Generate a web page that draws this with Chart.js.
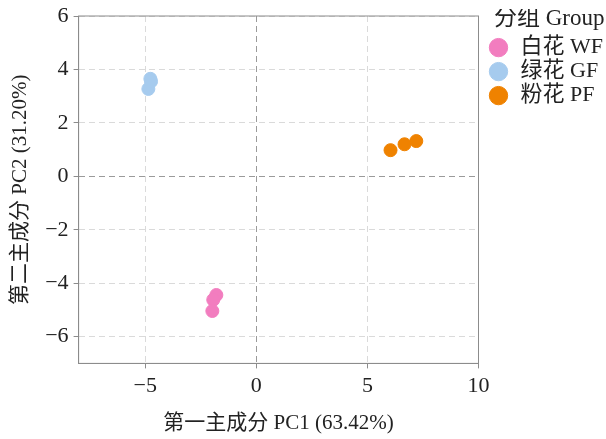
<!DOCTYPE html>
<html>
<head>
<meta charset="utf-8">
<script src="https://cdn.jsdelivr.net/npm/chart.js@4/dist/chart.umd.min.js"></script>
<style>
  html, body { margin: 0; padding: 0; background: #fff; }
  #wrap { width: 606px; height: 439px; }
</style>
</head>
<body>
<div id="wrap"><canvas id="pcaChart"></canvas></div>
<script>
// group names
const groupNames = ['白花 WF', '绿花 GF', '粉花 PF'];
const groupColors = ['#f27dbf', '#a6cbee', '#ef8200'];

// sample scores (PC1, PC2)
const wfPC1 = [-1.80, -1.94, -1.98];
const wfPC2 = [-4.44, -4.62, -5.04];
const gfPC1 = [-4.77, -4.86, -4.74];
const gfPC2 = [3.65, 3.27, 3.55];
const pfPC1 = [6.04, 6.67, 7.20];
const pfPC2 = [0.98, 1.20, 1.32];

const xTicks = [-5, 0, 5, 10];
const yTicks = [-6, -4, -2, 0, 2, 4, 6];

const serif = '"Liberation Serif", "Noto Sans CJK SC", serif';

function toPoints(xs, ys) {
    return xs.map((x, i) => ({ x: x, y: ys[i] }));
}

// box round the plot area, and a little gap before the legend
const frame = {
    id: 'frame',
    afterLayout(chart) {
        if (chart.legend) {
            chart.legend.left += 7;
            chart.legend.right += 7;
        }
    },
    afterDraw(chart) {
        const a = chart.chartArea;
        const ctx = chart.ctx;
        ctx.save();
        ctx.strokeStyle = '#8c8c8c';
        ctx.lineWidth = 1;
        ctx.strokeRect(a.left, a.top, a.right - a.left, a.bottom - a.top);
        ctx.restore();
    }
};

function gridColor(ctx) {
    if (ctx.tick && ctx.tick.value === 0) return '#9a9a9a';
    return '#dadada';
}

const series = [
    toPoints(wfPC1, wfPC2),
    toPoints(gfPC1, gfPC2),
    toPoints(pfPC1, pfPC2)
];

new Chart('pcaChart', {
    type: 'scatter',
    data: {
        datasets: series.map((pts, i) => ({
            label: groupNames[i],
            data: pts,
            backgroundColor: groupColors[i],
            borderColor: groupColors[i],
            pointRadius: 6.5,
            pointHoverRadius: 6.5
        }))
    },
    plugins: [frame],
    options: {
        responsive: true,
        maintainAspectRatio: false,
        animation: false,
        layout: { padding: { top: 9, right: 0, left: 4, bottom: 3 } },
        plugins: {
            legend: {
                position: 'right',
                align: 'start',
                title: {
                    display: true,
                    text: '分组 Group',
                    color: '#222',
                    font: { family: serif, size: 23 },
                    padding: { top: -2, bottom: 0 }
                },
                labels: {
                    usePointStyle: true,
                    pointStyle: 'circle',
                    boxWidth: 22,
                    boxHeight: 13,
                    padding: 2,
                    color: '#222',
                    font: { family: serif, size: 22 }
                }
            },
            tooltip: { enabled: false }
        },
        scales: {
            x: {
                type: 'linear',
                min: -8,
                max: 10,
                afterBuildTicks: (axis) => { axis.ticks = xTicks.map(v => ({ value: v })); },
                ticks: {
                    color: '#222',
                    font: { family: serif, size: 22 },
                    padding: 5,
                    callback: (v) => String(v).replace('-', '\u2212')
                },
                grid: {
                    color: gridColor,
                    tickLength: 5,
                    tickColor: '#8c8c8c',
                    tickBorderDash: []
                },
                border: { display: true, color: '#8c8c8c', dash: [6, 4] },
                title: {
                    display: true,
                    text: '第一主成分 PC1 (63.42%)',
                    color: '#222',
                    font: { family: serif, size: 21 },
                    padding: { top: 6, bottom: 0 }
                }
            },
            y: {
                type: 'linear',
                min: -7,
                max: 6,
                afterBuildTicks: (axis) => { axis.ticks = yTicks.map(v => ({ value: v })); },
                ticks: {
                    color: '#222',
                    font: { family: serif, size: 22, lineHeight: 1 },
                    padding: 5,
                    callback: (v) => String(v).replace('-', '\u2212')
                },
                grid: {
                    color: gridColor,
                    tickLength: 5,
                    tickColor: '#8c8c8c',
                    tickBorderDash: []
                },
                border: { display: true, color: '#8c8c8c', dash: [6, 4] },
                title: {
                    display: true,
                    text: '第二主成分 PC2 (31.20%)',
                    color: '#222',
                    font: { family: serif, size: 21 },
                    padding: { bottom: 7 }
                }
            }
        }
    }
});
</script>
</body>
</html>
